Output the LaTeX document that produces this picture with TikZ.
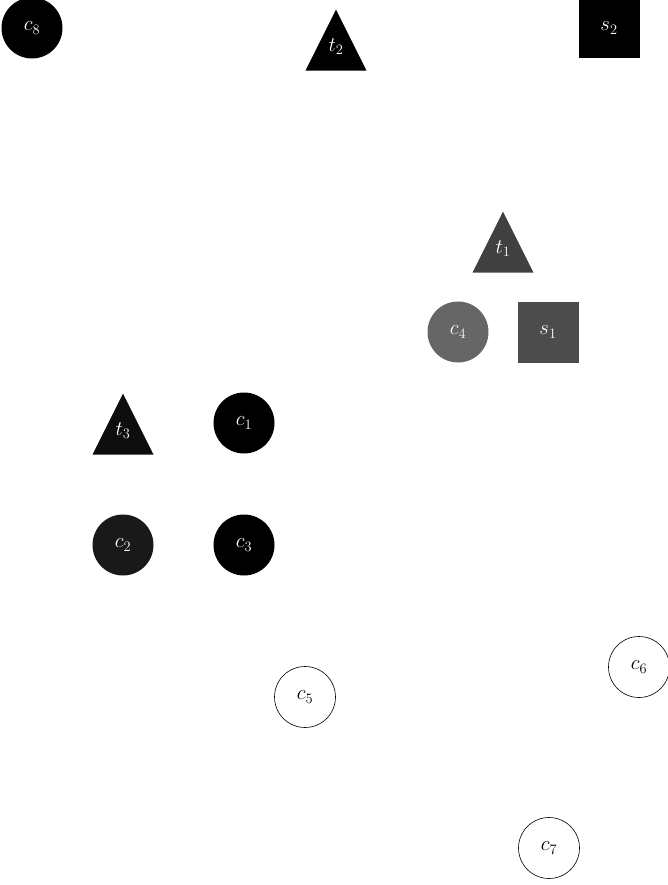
\documentclass[tikz,border=0pt]{standalone}
\usetikzlibrary{shapes.geometric}
\tikzset{
  circ/.style={circle, minimum size=61pt, inner sep=0pt},
  sq/.style={rectangle, minimum size=61pt, inner sep=0pt},
  tri/.style={isosceles triangle, isosceles triangle stretches, shape border rotate=90,
    minimum width=61pt, minimum height=61pt, inner sep=0pt, anchor=apex},
  filled/.style={fill=#1, text=white},
  hollow/.style={draw=black, fill=white, text=black, line width=0.6pt}
}
\newcommand{\up}[1]{\raisebox{13pt}{#1}}
\begin{document}
\begin{tikzpicture}[x=1pt, y=-1pt, font=\huge]
  \useasboundingbox (0,0) rectangle (667,885);
  % top row
  \node[circ, filled=black] (c8) at (32,28) {$c_8$};
  \node[tri, filled=black] (t2) at (336,9) {\up{$t_2$}};
  \node[sq, filled=black] (s2) at (609,28) {$s_2$};
  % right group
  \node[tri, filled=black!75] (t1) at (503,211) {\up{$t_1$}};
  \node[circ, filled=black!60] (c4) at (458,332) {$c_4$};
  \node[sq, filled=black!70] (s1) at (548,332) {$s_1$};
  % left group
  \node[tri, filled=black!95] (t3) at (123,393) {\up{$t_3$}};
  \node[circ, filled=black] (c1) at (244,423) {$c_1$};
  \node[circ, filled=black!90] (c2) at (123,545) {$c_2$};
  \node[circ, filled=black] (c3) at (244,545) {$c_3$};
  % open circles
  \node[circ, hollow] (c5) at (305,697) {$c_5$};
  \node[circ, hollow] (c6) at (639,667) {$c_6$};
  \node[circ, hollow] (c7) at (549,848) {$c_7$};
\end{tikzpicture}
\end{document}
